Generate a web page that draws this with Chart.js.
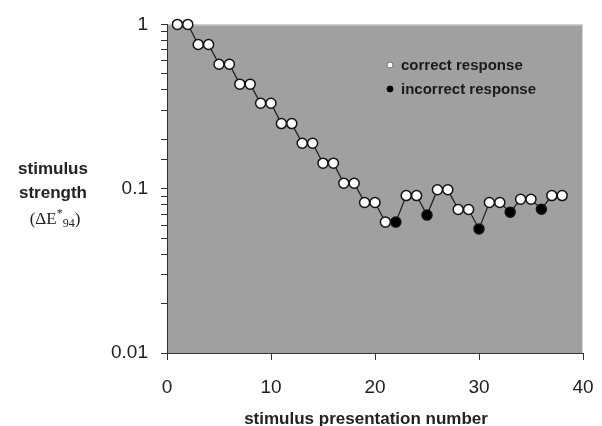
<!DOCTYPE html>
<html>
<head>
<meta charset="utf-8">
<script src="https://cdn.jsdelivr.net/npm/chart.js@4/dist/chart.umd.min.js"></script>
<style>
  html, body { margin: 0; padding: 0; background: #fff; }
  #wrap { width: 602px; height: 426px; }
</style>
</head>
<body>
<div id="wrap"><canvas id="staircase"></canvas></div>
<script>
// staircase data
const trials = [1, 2, 3, 4, 5, 6, 7, 8, 9, 10, 11, 12, 13, 14, 15, 16, 17, 18, 19, 20,
  21, 22, 23, 24, 25, 26, 27, 28, 29, 30, 31, 32, 33, 34, 35, 36, 37, 38];
const strength = [1, 1, 0.755, 0.755, 0.572, 0.572, 0.433, 0.433, 0.331, 0.331,
  0.249, 0.249, 0.189, 0.189, 0.143, 0.143, 0.108, 0.108, 0.0824, 0.0824,
  0.0626, 0.0626, 0.0908, 0.0908, 0.0691, 0.0986, 0.0986, 0.0747, 0.0747, 0.0569,
  0.0824, 0.0824, 0.072, 0.0862, 0.0862, 0.075, 0.0908, 0.0908];
// 1 = correct response, 0 = incorrect response
const correct = [1, 1, 1, 1, 1, 1, 1, 1, 1, 1, 1, 1, 1, 1, 1, 1, 1, 1, 1, 1,
  1, 0, 1, 1, 0, 1, 1, 1, 1, 0, 1, 1, 0, 1, 1, 0, 1, 1];
const yTickLabels = [1, 0.1, 0.01];
const legendLabels = ['correct response', 'incorrect response'];

const SANS = "'Liberation Sans', Arial, sans-serif";
const SERIF = "'Liberation Serif', 'Times New Roman', serif";

const plotBg = {
  id: 'plotBg',
  beforeDraw(chart) {
    const { ctx, chartArea: a } = chart;
    ctx.save();
    ctx.fillStyle = '#a0a0a0';
    ctx.fillRect(a.left, a.top, a.right - a.left, a.bottom - a.top);
    ctx.strokeStyle = '#d8d8d8';
    ctx.lineWidth = 1;
    ctx.beginPath();
    ctx.moveTo(a.left, a.top + 0.5);
    ctx.lineTo(a.right - 0.5, a.top + 0.5);
    ctx.lineTo(a.right - 0.5, a.bottom);
    ctx.stroke();
    ctx.restore();
  }
};

const extras = {
  id: 'extras',
  afterDraw(chart) {
    const { ctx } = chart;
    ctx.save();
    ctx.fillStyle = '#222';
    ctx.textAlign = 'center';
    ctx.textBaseline = 'middle';
    // y title, horizontal, three lines
    ctx.font = 'bold 17px ' + SANS;
    ctx.fillText('stimulus', 53, 169);
    ctx.fillText('strength', 53, 193);
    // (ΔE*94)
    ctx.textAlign = 'left';
    const parts = [
      { t: '(ΔE', f: '17px ' + SERIF, dy: 0 },
      { t: '*', f: '12px ' + SERIF, dy: -6 },
      { t: '94', f: '12px ' + SERIF, dy: 4 },
      { t: ')', f: '17px ' + SERIF, dy: 0 }
    ];
    let w = 0;
    parts.forEach(p => { ctx.font = p.f; w += ctx.measureText(p.t).width; });
    let x = 55 - w / 2;
    parts.forEach(p => {
      ctx.font = p.f;
      ctx.fillText(p.t, x, 220 + p.dy);
      x += ctx.measureText(p.t).width;
    });
    // x title
    ctx.textAlign = 'center';
    ctx.font = 'bold 17px ' + SANS;
    ctx.fillText('stimulus presentation number', 366, 419);
    // legend inside plot
    ctx.textAlign = 'left';
    ctx.font = 'bold 15px ' + SANS;
    legendLabels.forEach((lab, i) => {
      const ly = 65 + i * 24;
      ctx.beginPath();
      ctx.arc(390, ly, 3, 0, Math.PI * 2);
      ctx.fillStyle = i === 0 ? '#fff' : '#000';
      ctx.fill();
      ctx.strokeStyle = i === 0 ? '#777' : '#000';
      ctx.lineWidth = 1;
      ctx.stroke();
      ctx.fillStyle = '#1a1a1a';
      ctx.fillText(lab, 401, ly + 1);
    });
    ctx.restore();
  }
};

new Chart(document.getElementById('staircase'), {
  type: 'line',
  data: {
    datasets: [{
      data: trials.map((t, i) => ({ x: t, y: strength[i] })),
      borderColor: '#1a1a1a',
      borderWidth: 1.2,
      tension: 0,
      fill: false,
      clip: false,
      pointRadius: 5,
      pointBorderWidth: 1.5,
      pointBorderColor: '#111',
      pointBackgroundColor: correct.map(c => c ? '#fff' : '#000')
    }]
  },
  options: {
    responsive: true,
    maintainAspectRatio: false,
    animation: false,
    layout: { padding: { top: 21, right: 19, left: 0, bottom: 0 } },
    plugins: {
      legend: { display: false },
      tooltip: { enabled: false }
    },
    scales: {
      x: {
        type: 'linear',
        min: 0,
        max: 40,
        ticks: { stepSize: 10, color: '#222', font: { family: SANS, size: 19 }, padding: 16 },
        grid: { drawOnChartArea: false, tickLength: 7, color: '#333' },
        border: { color: '#333' },
        afterFit(s) { s.height = 73; s.paddingLeft = 0; s.paddingRight = 12; }
      },
      y: {
        type: 'logarithmic',
        min: 0.01,
        max: 1,
        ticks: {
          autoSkip: false,
          color: '#222',
          font: { family: SANS, size: 19 },
          padding: 13,
          callback: v => yTickLabels.includes(v) ? String(v) : ''
        },
        grid: { drawOnChartArea: false, tickLength: 6, color: '#333' },
        border: { color: '#333' },
        afterFit(s) { s.width = 167; }
      }
    }
  },
  plugins: [plotBg, extras]
});
</script>
</body>
</html>
